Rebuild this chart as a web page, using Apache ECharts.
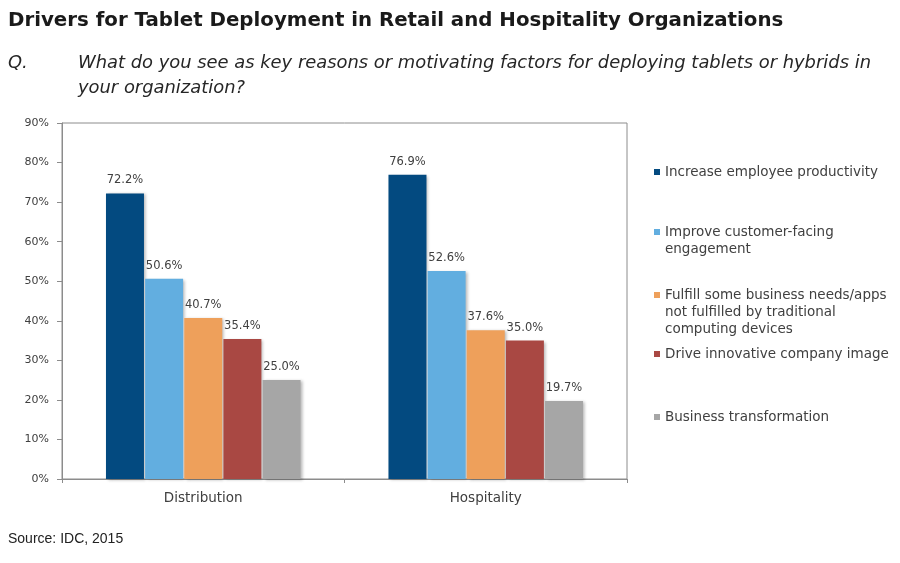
<!DOCTYPE html>
<html>
<head>
<meta charset="utf-8">
<script src="https://cdn.jsdelivr.net/npm/echarts@6/dist/echarts.min.js"></script>
<style>
html,body{margin:0;padding:0;background:#fff;}
#chart{width:900px;height:563px;}
</style>
</head>
<body>
<div id="chart"></div>
<script>
var categories = ['Distribution', 'Hospitality'];
var seriesNames = [
  'Increase employee productivity',
  'Improve customer-facing\nengagement',
  'Fulfill some business needs/apps\nnot fulfilled by traditional\ncomputing devices',
  'Drive innovative company image',
  'Business transformation'
];
var productivity = [72.2, 76.9];
var engagement = [50.6, 52.6];
var fulfill = [40.7, 37.6];
var image = [35.4, 35.0];
var transformation = [25.0, 19.7];
var yTicks = [0, 10, 20, 30, 40, 50, 60, 70, 80, 90];

var seriesValues = [productivity, engagement, fulfill, image, transformation];
var colors = ['#034a80', '#62aee0', '#eea05b', '#a94843', '#a6a6a6'];
var legendTops = [163.5, 206.5, 252.5, 345.5, 408.5];

var FONT = '"DejaVu Sans", Verdana, sans-serif';

var series = seriesNames.map(function (n, i) {
  return {
    name: n,
    type: 'bar',
    data: seriesValues[i],
    barWidth: 38,
    barGap: '3%',
    itemStyle: {
      color: colors[i],
      shadowColor: 'rgba(0,0,0,0.28)',
      shadowBlur: 3,
      shadowOffsetX: 2,
      shadowOffsetY: 1
    },
    label: {
      show: true,
      position: 'top',
      distance: 7,
      color: '#404040',
      fontFamily: FONT,
      fontSize: 11.5,
      formatter: function (p) { return p.value.toFixed(1) + '%'; }
    }
  };
});

var legends = seriesNames.map(function (n, i) {
  return {
    orient: 'vertical',
    left: 654,
    top: legendTops[i],
    padding: 0,
    itemWidth: 6,
    itemHeight: 6,
    icon: 'rect',
    data: [n],
    selectedMode: false,
    formatter: function (name) {
      var k = name.split('\n').length - 1;
      var pre = '';
      for (var j = 0; j < k; j++) { pre += ' \n'; }
      return pre + name;
    },
    textStyle: {
      color: '#404040',
      fontFamily: FONT,
      fontSize: 13.5,
      lineHeight: 17
    }
  };
});

var chart = echarts.init(document.getElementById('chart'));
chart.setOption({
  backgroundColor: '#ffffff',
  animation: false,
  title: [
    {
      text: 'Drivers for Tablet Deployment in Retail and Hospitality Organizations',
      left: 8, top: 11, padding: 0,
      textStyle: { fontFamily: FONT, fontWeight: 'bold', fontSize: 19.8, color: '#1a1a1a' }
    },
    {
      text: 'Q.',
      left: 8, top: 51, padding: 0,
      textStyle: { fontFamily: FONT, fontStyle: 'italic', fontWeight: 'normal', fontSize: 17.9, color: '#262626', lineHeight: 25 }
    },
    {
      text: 'What do you see as key reasons or motivating factors for deploying tablets or hybrids in\nyour organization?',
      left: 78, top: 51, padding: 0,
      textStyle: { fontFamily: FONT, fontStyle: 'italic', fontWeight: 'normal', fontSize: 17.9, color: '#262626', lineHeight: 25 }
    },
    {
      text: 'Source: IDC, 2015',
      left: 8, top: 532, padding: 0,
      textStyle: { fontFamily: '"Liberation Sans", Arial, sans-serif', fontWeight: 'normal', fontSize: 14, color: '#222222' }
    }
  ],
  legend: legends,
  grid: {
    left: 62, right: 273, top: 123, bottom: 84,
    show: true, borderColor: '#8c8c8c', borderWidth: 1, backgroundColor: 'transparent'
  },
  xAxis: {
    type: 'category',
    data: categories,
    axisLine: { lineStyle: { color: '#8c8c8c' } },
    axisTick: { show: true, length: 4, lineStyle: { color: '#8c8c8c' } },
    axisLabel: { color: '#404040', fontFamily: FONT, fontSize: 13.5, margin: 12 }
  },
  yAxis: {
    type: 'value',
    min: yTicks[0],
    max: yTicks[yTicks.length - 1],
    interval: yTicks[1] - yTicks[0],
    splitLine: { show: false },
    axisLine: { show: true, lineStyle: { color: '#8c8c8c' } },
    axisTick: { show: true, length: 5, lineStyle: { color: '#8c8c8c' } },
    axisLabel: { color: '#404040', fontFamily: FONT, fontSize: 11, margin: 13, formatter: '{value}%' }
  },
  series: series
});
</script>
</body>
</html>
